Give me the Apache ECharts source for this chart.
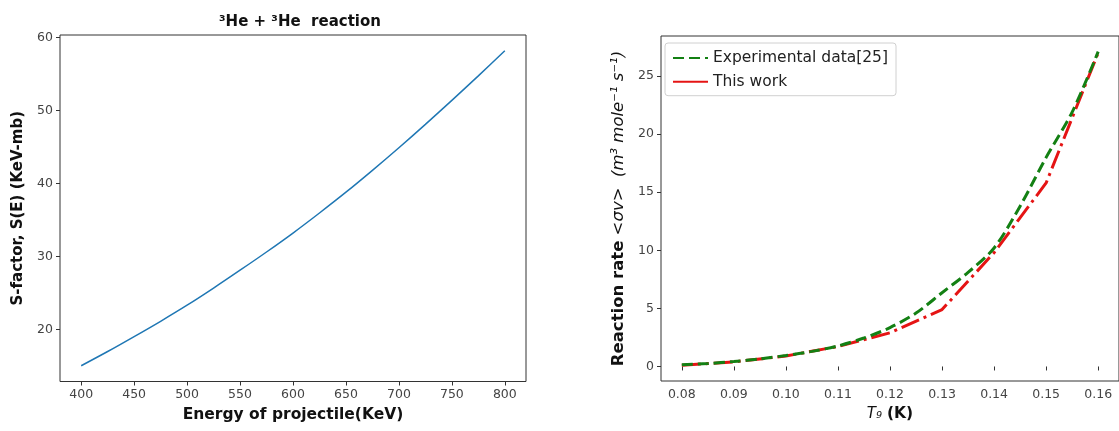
<!DOCTYPE html>
<html>
<head>
<meta charset="utf-8">
<script src="https://cdn.jsdelivr.net/npm/echarts@6/dist/echarts.min.js"></script>
<style>html,body{margin:0;padding:0;background:#fff;}#c{width:1119px;height:431px;}</style>
</head>
<body>
<div id="c"></div>
<script>
// Left panel: S-factor vs projectile energy
const energyKeV = [400,425,450,475,500,525,550,575,600,625,650,675,700,725,750,775,800];
const sFactor   = [15.0,16.95,19.0,21.1,23.3,25.65,28.1,30.6,33.2,35.95,38.8,41.8,44.9,48.1,51.4,54.75,58.2];
const leftXTicks = [400,450,500,550,600,650,700,750,800];
const leftYTicks = [20,30,40,50,60];

// Right panel: reaction rate vs T9
const t9Exp   = [0.08,0.085,0.09,0.095,0.10,0.105,0.11,0.115,0.12,0.125,0.13,0.135,0.14,0.145,0.15,0.155,0.16];
const rateExp = [0.14,0.25,0.43,0.65,0.95,1.3,1.77,2.45,3.35,4.6,6.35,8.1,10.2,13.8,18.0,21.9,27.1];
const t9Work   = [0.08,0.09,0.10,0.11,0.12,0.13,0.14,0.15,0.16];
const rateWork = [0.1,0.4,0.9,1.72,2.9,4.9,9.8,15.8,27.0];
const rightXTicks = [0.08,0.09,0.10,0.11,0.12,0.13,0.14,0.15,0.16];
const rightYTicks = [0,5,10,15,20,25];

const seriesNames = ['Experimental data[25]','This work'];

const FONT = 'DejaVu Sans';
const tickLabel = {color:'#444', fontSize:12.5, fontFamily:FONT, margin:7};
const tick = {show:true, inside:false, length:4, lineStyle:{color:'#333', width:1}};

const chart = echarts.init(document.getElementById('c'), null, {renderer:'canvas'});
chart.setOption({
  animation:false,
  backgroundColor:'#fff',
  title:{
    text:'³He + ³He  reaction', left:295, top:10, textAlign:'center',
    textStyle:{fontFamily:FONT, fontWeight:'bold', fontSize:15, color:'#111'}
  },
  legend:{
    orient:'vertical', left:665, top:43,
    data:[
      {name:seriesNames[0]},
      {name:seriesNames[1], lineStyle:{type:'solid'}}
    ],
    itemWidth:35, itemHeight:14, itemGap:5.7,
    itemStyle:{opacity:0},
    padding:[6,8,5,7],
    borderColor:'#d0d0d0', borderWidth:1, borderRadius:3,
    backgroundColor:'rgba(255,255,255,0.8)',
    textStyle:{fontFamily:FONT, fontSize:15.5, color:'#222', lineHeight:18}
  },
  grid:[
    {left:60, top:35, width:466, height:346.5, show:true, borderColor:'#333', borderWidth:1, backgroundColor:'transparent'},
    {left:661, top:36, width:462, height:345, show:true, borderColor:'#333', borderWidth:1, backgroundColor:'transparent'}
  ],
  xAxis:[
    {type:'value', gridIndex:0, min:380, max:820,
     axisLine:{show:false}, splitLine:{show:false},
     axisTick:Object.assign({customValues:leftXTicks}, tick),
     axisLabel:Object.assign({customValues:leftXTicks}, tickLabel),
     name:'Energy of projectile(KeV)', nameLocation:'middle', nameGap:25,
     nameTextStyle:{fontFamily:FONT, fontWeight:'bold', fontSize:15.5, color:'#111'}},
    {type:'value', gridIndex:1, min:0.076, max:0.164,
     axisLine:{show:false}, splitLine:{show:false},
     axisTick:Object.assign({customValues:rightXTicks}, tick),
     axisLabel:Object.assign({customValues:rightXTicks, formatter:v=>v.toFixed(2)}, tickLabel),
     name:'{i|T₉} {b|(K)}', nameLocation:'middle', nameGap:25,
     nameTextStyle:{fontFamily:FONT, fontSize:15.5, color:'#111',
       rich:{i:{fontFamily:FONT, fontStyle:'italic', fontSize:15, color:'#111'},
             b:{fontFamily:FONT, fontWeight:'bold', fontSize:15.5, color:'#111'}}}}
  ],
  yAxis:[
    {type:'value', gridIndex:0, min:12.84, max:60.36,
     axisLine:{show:false}, splitLine:{show:false},
     axisTick:Object.assign({customValues:leftYTicks}, tick),
     axisLabel:Object.assign({customValues:leftYTicks}, tickLabel),
     name:'S-factor, S(E) (KeV-mb)', nameLocation:'middle', nameGap:34,
     nameTextStyle:{fontFamily:FONT, fontWeight:'bold', fontSize:15, color:'#111'}},
    {type:'value', gridIndex:1, min:-1.25, max:28.45,
     axisLine:{show:false}, splitLine:{show:false},
     axisTick:Object.assign({customValues:rightYTicks}, tick),
     axisLabel:Object.assign({customValues:rightYTicks}, tickLabel),
     name:'{b|Reaction rate} {i|<σv>}  {i|(m³ mole⁻¹ s⁻¹)}', nameLocation:'middle', nameGap:34,
     nameTextStyle:{fontFamily:FONT, fontSize:16.5, color:'#111',
       rich:{b:{fontFamily:FONT, fontWeight:'bold', fontSize:16.5, color:'#111'},
             i:{fontFamily:FONT, fontStyle:'italic', fontSize:16.5, color:'#111'}}}}
  ],
  series:[
    {type:'line', xAxisIndex:0, yAxisIndex:0, symbol:'none', smooth:0.3,
     data:energyKeV.map((x,i)=>[x,sFactor[i]]),
     lineStyle:{color:'#1f77b4', width:1.5}, itemStyle:{color:'#1f77b4'}},
    {type:'line', name:seriesNames[0], xAxisIndex:1, yAxisIndex:1, symbol:'none', smooth:0.3,
     data:t9Exp.map((x,i)=>[x,rateExp[i]]), z:3,
     lineStyle:{color:'#138013', width:3, type:[11,5]}, itemStyle:{color:'#138013'}},
    {type:'line', name:seriesNames[1], xAxisIndex:1, yAxisIndex:1, symbol:'none',
     data:t9Work.map((x,i)=>[x,rateWork[i]]), z:2,
     lineStyle:{color:'#e51414', width:3, type:[19,5,3,5]}, itemStyle:{color:'#e51414'}}
  ]
});
</script>
</body>
</html>
